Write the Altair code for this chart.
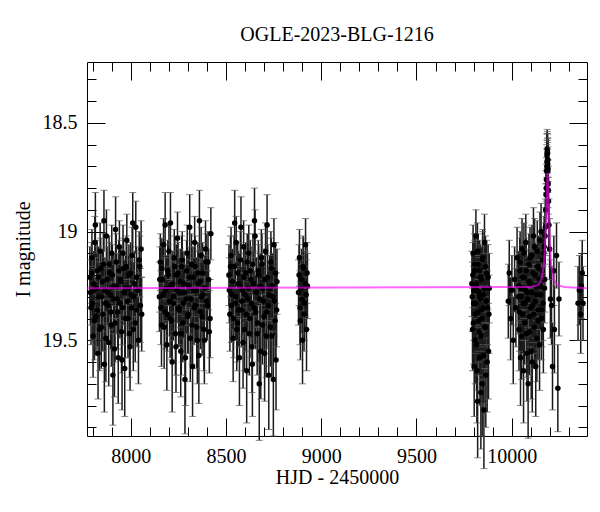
import altair as alt
import pandas as pd

# ---- photometry (HJD-2450000, I mag, error) ----
s1_t = [7786, 7792, 7797, 7803, 7808, 7812, 7818, 7824, 7829, 7833, 7840, 7846, 7851, 7857, 7862, 7868, 7873,
        7879, 7885, 7890, 7896, 7901, 7907, 7912, 7918, 7924, 7929, 7935, 7941, 7946, 7952, 7957, 7963, 7969,
        7974, 7980, 7986, 7991, 7997, 8003, 8008, 8014, 8020, 8027, 8034, 8041, 8048, 8055, 8058]
s1_m = [19.21, 19.35, 19.12, 19.48, 19.27, 19.05, 19.39, 19.18, 19.56, 19.30, 19.09, 19.44, 19.23, 19.15, 19.61,
        19.33, 19.02, 19.28, 19.51, 19.19, 19.37, 19.10, 19.66, 19.25, 19.42, 19.14, 19.31, 19.58, 19.07, 19.22,
        19.46, 19.35, 19.17, 19.63, 19.26, 19.04, 19.40, 19.20, 19.53, 19.29, 19.11, 19.45, 19.24, 18.98, 19.36,
        19.50, 19.16, 19.08, 19.38]
s1_e = [0.14, 0.17, 0.13, 0.19, 0.15, 0.12, 0.18, 0.14, 0.21, 0.16, 0.13, 0.19, 0.15, 0.14, 0.22, 0.17, 0.12,
        0.15, 0.20, 0.14, 0.17, 0.13, 0.23, 0.15, 0.18, 0.13, 0.16, 0.21, 0.12, 0.14, 0.19, 0.17, 0.14, 0.22,
        0.15, 0.12, 0.18, 0.14, 0.20, 0.16, 0.13, 0.19, 0.15, 0.12, 0.17, 0.20, 0.14, 0.13, 0.17]
s1b_t = [7789, 7795, 7800, 7806, 7810, 7815, 7821, 7826, 7831, 7837, 7843, 7848, 7854, 7860, 7865, 7870, 7876,
         7882, 7887, 7893, 7899, 7904, 7910, 7915, 7921, 7927, 7932, 7938, 7944, 7949, 7955, 7960, 7966, 7972,
         7977, 7983, 7989, 7994, 8000, 8006, 8011, 8017, 8024, 8031, 8038, 8045, 8051]
s1b_m = [19.28, 19.19, 19.33, 19.24, 19.41, 18.97, 19.26, 19.36, 19.21, 19.45, 19.17, 19.30, 19.38, 18.95, 19.27,
         19.49, 19.22, 19.34, 19.15, 19.29, 19.43, 19.20, 19.31, 19.54, 18.99, 19.25, 19.37, 19.18, 19.33, 19.23,
         19.59, 19.10, 19.28, 19.40, 19.16, 19.32, 19.26, 19.47, 19.19, 19.35, 18.96, 19.30, 19.42, 19.21, 19.27,
         19.13, 19.34]
s1b_e = [0.15, 0.14, 0.17, 0.15, 0.18, 0.15, 0.16, 0.17, 0.14, 0.19, 0.14, 0.16, 0.17, 0.14, 0.15, 0.20, 0.15,
         0.17, 0.13, 0.16, 0.19, 0.14, 0.16, 0.22, 0.15, 0.15, 0.17, 0.14, 0.16, 0.15, 0.23, 0.13, 0.15, 0.18,
         0.14, 0.16, 0.15, 0.20, 0.14, 0.17, 0.14, 0.16, 0.18, 0.14, 0.15, 0.13, 0.17]

s2_t = [8151, 8156, 8162, 8167, 8173, 8179, 8184, 8190, 8195, 8201, 8207, 8212, 8218, 8224, 8229, 8235, 8240,
        8246, 8252, 8257, 8263, 8268, 8274, 8280, 8285, 8291, 8297, 8302, 8308, 8313, 8319, 8325, 8330, 8336,
        8341, 8347, 8353, 8358, 8364, 8370, 8375, 8381, 8387, 8393, 8399, 8406, 8413, 8421]
s2_m = [19.30, 19.14, 19.43, 19.22, 19.06, 19.37, 19.27, 19.52, 19.18, 19.09, 19.40, 19.25, 19.60, 19.33, 19.12,
        19.47, 19.20, 19.03, 19.35, 19.28, 19.55, 19.16, 19.42, 19.24, 19.68, 19.31, 19.10, 19.38, 19.21, 19.49,
        19.15, 19.62, 19.27, 19.05, 19.34, 19.44, 19.19, 19.57, 19.23, 19.11, 19.39, 19.29, 19.50, 19.08, 19.32,
        19.14, 19.46, 19.01]
s2_e = [0.16, 0.13, 0.19, 0.15, 0.12, 0.17, 0.15, 0.21, 0.14, 0.13, 0.18, 0.15, 0.23, 0.17, 0.13, 0.19, 0.14,
        0.12, 0.17, 0.16, 0.21, 0.14, 0.18, 0.15, 0.25, 0.16, 0.13, 0.18, 0.14, 0.20, 0.14, 0.23, 0.15, 0.12,
        0.17, 0.19, 0.14, 0.22, 0.15, 0.13, 0.18, 0.16, 0.20, 0.13, 0.17, 0.14, 0.19, 0.12]
s2b_t = [8153, 8159, 8164, 8170, 8176, 8181, 8187, 8192, 8198, 8204, 8209, 8215, 8221, 8226, 8232, 8238, 8243,
         8249, 8254, 8260, 8266, 8271, 8277, 8282, 8288, 8294, 8299, 8305, 8310, 8316, 8322, 8327, 8333, 8338,
         8344, 8350, 8356, 8361, 8367, 8372, 8378, 8384, 8390, 8396, 8402, 8409, 8417]
s2b_m = [19.22, 19.35, 19.17, 19.29, 19.44, 18.97, 19.26, 19.38, 19.20, 19.32, 18.96, 19.41, 19.24, 19.30, 19.16,
         19.53, 19.27, 19.19, 19.36, 19.23, 19.47, 19.13, 19.33, 19.28, 19.58, 19.18, 19.39, 19.25, 18.98, 19.31,
         19.43, 19.21, 19.35, 19.16, 19.27, 19.50, 19.24, 18.95, 19.37, 19.30, 19.19, 19.45, 19.26, 19.14, 19.34,
         19.22, 19.40]
s2b_e = [0.15, 0.17, 0.14, 0.16, 0.19, 0.15, 0.15, 0.17, 0.14, 0.16, 0.14, 0.18, 0.15, 0.16, 0.14, 0.21, 0.15,
         0.14, 0.17, 0.15, 0.19, 0.13, 0.16, 0.15, 0.22, 0.14, 0.17, 0.15, 0.15, 0.16, 0.18, 0.14, 0.17, 0.14,
         0.15, 0.20, 0.15, 0.14, 0.17, 0.16, 0.14, 0.19, 0.15, 0.13, 0.16, 0.14, 0.18]

s3_t = [8516, 8521, 8527, 8532, 8538, 8543, 8549, 8554, 8560, 8565, 8571, 8576, 8582, 8587, 8593, 8598, 8604,
        8609, 8615, 8620, 8626, 8631, 8637, 8642, 8648, 8653, 8659, 8664, 8670, 8675, 8681, 8686, 8692, 8697,
        8703, 8708, 8714, 8719, 8725, 8730, 8736, 8741, 8747, 8752, 8758, 8763, 8768]
s3_m = [19.20, 19.38, 19.11, 19.29, 19.49, 19.16, 19.33, 19.05, 19.42, 19.24, 19.58, 19.13, 19.36, 19.27, 19.07,
        19.45, 19.19, 19.64, 19.31, 19.10, 19.40, 19.22, 19.53, 19.15, 19.35, 19.02, 19.28, 19.47, 19.18, 19.70,
        19.25, 19.12, 19.43, 19.32, 19.56, 19.09, 19.37, 19.21, 19.66, 19.26, 19.14, 19.48, 19.30, 19.06, 19.41,
        19.59, 19.23]
s3_e = [0.14, 0.17, 0.13, 0.16, 0.20, 0.14, 0.17, 0.12, 0.18, 0.15, 0.22, 0.13, 0.17, 0.15, 0.12, 0.19, 0.14,
        0.24, 0.16, 0.13, 0.18, 0.15, 0.21, 0.14, 0.17, 0.12, 0.16, 0.19, 0.14, 0.26, 0.15, 0.13, 0.18, 0.16,
        0.22, 0.13, 0.17, 0.15, 0.25, 0.15, 0.14, 0.19, 0.16, 0.12, 0.18, 0.23, 0.15]
s3b_t = [8518, 8524, 8529, 8535, 8540, 8546, 8551, 8557, 8562, 8568, 8573, 8579, 8584, 8590, 8595, 8601, 8606,
         8612, 8617, 8623, 8628, 8634, 8639, 8645, 8650, 8656, 8661, 8667, 8672, 8678, 8683, 8689, 8694, 8700,
         8705, 8711, 8716, 8722, 8727, 8733, 8738, 8744, 8749, 8755, 8760, 8766]
s3b_m = [19.27, 19.16, 19.34, 19.23, 19.40, 18.96, 19.30, 19.45, 19.19, 19.36, 19.25, 18.98, 19.32, 19.51, 19.21,
         19.29, 19.38, 19.14, 19.26, 19.47, 19.18, 19.33, 19.61, 19.24, 18.95, 19.37, 19.28, 19.42, 19.20, 19.31,
         19.55, 19.15, 19.26, 19.39, 19.22, 19.48, 18.97, 19.34, 19.29, 19.44, 19.17, 19.25, 19.68, 19.32, 19.19,
         19.36]
s3b_e = [0.15, 0.14, 0.17, 0.15, 0.18, 0.15, 0.16, 0.19, 0.14, 0.17, 0.15, 0.14, 0.16, 0.21, 0.14, 0.16, 0.17,
         0.13, 0.15, 0.19, 0.14, 0.16, 0.24, 0.15, 0.15, 0.17, 0.16, 0.18, 0.14, 0.16, 0.22, 0.14, 0.15, 0.17,
         0.14, 0.19, 0.14, 0.16, 0.15, 0.18, 0.14, 0.15, 0.26, 0.16, 0.14, 0.17]

s4_t = [8881, 8884, 8886, 8889, 8891, 8894, 8897, 8900, 8902, 8905, 8907, 8910, 8913, 8916, 8918, 8921, 8923,
        8926, 8928]
s4_m = [19.28, 19.20, 19.12, 19.35, 19.41, 19.26, 19.22, 19.31, 19.50, 19.16, 19.17, 19.38, 19.33, 19.24, 19.06,
        19.29, 19.45, 19.19, 19.25]
s4_e = [0.15, 0.14, 0.13, 0.17, 0.18, 0.15, 0.14, 0.16, 0.20, 0.14, 0.14, 0.17, 0.17, 0.15, 0.12, 0.16, 0.19,
        0.14, 0.15]

s5_t = [9791, 9794, 9797, 9800, 9803, 9806, 9809, 9812, 9815, 9818, 9821, 9824, 9827, 9830, 9833, 9836, 9839,
        9842, 9845, 9848, 9851, 9854, 9857, 9860, 9864, 9868, 9873, 9878, 9882]
s5_m = [19.24, 19.45, 19.10, 19.33, 19.62, 19.18, 19.38, 19.02, 19.52, 19.27, 19.78, 19.15, 19.41, 19.30, 19.58,
        19.21, 19.48, 19.36, 19.70, 19.12, 19.29, 19.82, 19.05, 19.44, 19.66, 19.19, 19.35, 19.55, 19.26]
s5_e = [0.15, 0.19, 0.13, 0.17, 0.23, 0.14, 0.18, 0.12, 0.21, 0.16, 0.26, 0.14, 0.19, 0.16, 0.22, 0.15, 0.20,
        0.17, 0.24, 0.13, 0.16, 0.27, 0.13, 0.19, 0.24, 0.15, 0.17, 0.22, 0.16]
s5b_t = [9793, 9796, 9799, 9802, 9805, 9808, 9811, 9814, 9817, 9820, 9823, 9826, 9829, 9832, 9835, 9838, 9841,
         9844, 9847, 9850, 9853, 9856, 9859, 9862, 9866, 9871, 9876, 9880]
s5b_m = [19.30, 19.20, 19.42, 19.27, 19.15, 19.50, 19.33, 19.24, 19.64, 19.09, 19.37, 19.28, 19.46, 19.18, 19.31,
         19.74, 19.22, 19.40, 19.13, 19.35, 19.57, 19.26, 19.44, 19.16, 19.32, 19.60, 19.21, 19.38]
s5b_e = [0.16, 0.15, 0.19, 0.16, 0.14, 0.20, 0.17, 0.15, 0.24, 0.13, 0.18, 0.16, 0.20, 0.14, 0.17, 0.26, 0.15,
         0.19, 0.13, 0.17, 0.22, 0.16, 0.19, 0.14, 0.17, 0.23, 0.15, 0.18]

s6_t = [9982, 9987, 9994, 10001, 10008, 10015, 10022, 10028, 10034, 10038, 10042, 10046, 10050, 10054, 10058,
        10062, 10066, 10070, 10074, 10078, 10082, 10086, 10090, 10094, 10098, 10102, 10106, 10110, 10114, 10118,
        10122, 10126, 10130, 10134, 10138, 10142, 10146, 10150, 10154, 10158, 10162, 10166, 10170, 10173, 10176,
        10178, 10180, 10182, 10184, 10185, 10186, 10187, 10188, 10189, 10190, 10191, 10193, 10195,
        10199, 10203, 10209, 10214, 10221, 10224, 10235, 10242, 10248]
s6_m = [19.32, 19.19, 19.40, 19.27, 19.50, 19.22, 19.35, 19.12, 19.30, 19.45, 19.18, 19.58, 19.26, 19.08, 19.38,
        19.64, 19.21, 19.33, 19.05, 19.47, 19.28, 19.70, 19.15, 19.39, 19.24, 19.55, 19.11, 19.34, 19.02, 19.44,
        19.20, 19.62, 19.29, 19.09, 19.41, 19.17, 19.52, 19.25, 19.00, 19.36, 19.13, 19.45, 19.07, 19.22, 18.98,
        18.90, 18.83, 18.76, 18.70, 18.65, 18.62, 18.68, 18.64, 18.72, 18.67, 18.78, 18.86, 18.97,
        19.08, 19.31, 19.34, 19.62, 19.18, 19.45, 19.11, 19.72, 19.31]
s6_e = [0.17, 0.15, 0.19, 0.16, 0.20, 0.15, 0.18, 0.14, 0.17, 0.19, 0.15, 0.22, 0.16, 0.14, 0.18,
        0.24, 0.15, 0.17, 0.13, 0.20, 0.16, 0.25, 0.14, 0.18, 0.15, 0.22, 0.14, 0.17, 0.13, 0.19,
        0.15, 0.23, 0.16, 0.14, 0.18, 0.15, 0.21, 0.16, 0.13, 0.17, 0.14, 0.20, 0.14, 0.15, 0.13,
        0.12, 0.11, 0.10, 0.10, 0.10, 0.09, 0.10, 0.09, 0.10, 0.10, 0.11, 0.11, 0.12,
        0.14, 0.18, 0.18, 0.20, 0.16, 0.20, 0.15, 0.20, 0.17]
s6b_t = [10036, 10040, 10044, 10048, 10052, 10056, 10060, 10064, 10068, 10072, 10076, 10080, 10084, 10088, 10092,
         10096, 10100, 10104, 10108, 10112, 10116, 10120, 10124, 10128, 10132, 10136, 10140, 10144, 10148, 10152,
         10156, 10160, 10164, 10168, 10172, 10175,
         10181, 10183, 10185, 10186, 10187, 10188, 10189, 10190, 10192]
s6b_m = [19.25, 19.37, 19.14, 19.30, 19.48, 19.21, 19.33, 19.10, 19.42, 19.27, 19.18, 19.56, 19.31, 19.23, 19.46,
         19.12, 19.35, 19.28, 19.60, 19.19, 19.38, 19.07, 19.32, 19.25, 19.49, 19.16, 19.36, 19.22, 19.04, 19.29,
         19.40, 19.18, 19.33, 19.10, 19.26, 19.02,
         18.80, 18.72, 18.68, 18.64, 18.63, 18.67, 18.69, 18.71, 18.81]
s6b_e = [0.16, 0.18, 0.14, 0.17, 0.20, 0.15, 0.17, 0.14, 0.19, 0.16, 0.15, 0.22, 0.17, 0.15, 0.20,
         0.14, 0.18, 0.16, 0.23, 0.15, 0.18, 0.13, 0.17, 0.16, 0.20, 0.14, 0.18, 0.15, 0.13, 0.16,
         0.19, 0.15, 0.17, 0.14, 0.16, 0.13,
         0.11, 0.10, 0.10, 0.09, 0.09, 0.10, 0.10, 0.10, 0.11]

s7_t = [10348, 10355, 10362, 10366, 10370, 10374]
s7_m = [19.33, 19.27, 19.38, 19.25, 19.19, 19.33]
s7_e = [0.17, 0.16, 0.18, 0.15, 0.15, 0.17]

# ---- model light curve ----
model_t = [7771, 10100, 10140, 10160, 10170, 10176, 10180, 10184, 10188, 10192, 10196, 10200, 10206, 10216,
           10236, 10276, 10395]
model_m = [19.26, 19.255, 19.245, 19.21, 19.14, 19.04, 18.95, 18.83, 18.73, 18.83, 18.95, 19.04, 19.14, 19.21,
           19.245, 19.255, 19.26]

# ---- axis tick values ----
x_major = [8000, 8500, 9000, 9500, 10000]
x_minor = list(range(7800, 10400, 100))
y_major = [18.5, 19, 19.5]
y_minor = [18.3, 18.4, 18.5, 18.6, 18.7, 18.8, 18.9, 19.0, 19.1, 19.2, 19.3, 19.4, 19.5, 19.6, 19.7, 19.8, 19.9]

t = s1_t + s1b_t + s2_t + s2b_t + s3_t + s3b_t + s4_t + s5_t + s5b_t + s6_t + s6b_t + s7_t
m = s1_m + s1b_m + s2_m + s2b_m + s3_m + s3b_m + s4_m + s5_m + s5b_m + s6_m + s6b_m + s7_m
e = s1_e + s1b_e + s2_e + s2b_e + s3_e + s3b_e + s4_e + s5_e + s5b_e + s6_e + s6b_e + s7_e
df = pd.DataFrame({"t": t, "mag": m, "err": e})
model = pd.DataFrame({"t": model_t, "mag": model_m})

FONT = "Liberation Serif"
xs = alt.Scale(domain=[7771, 10395], nice=False, zero=False)
ys = alt.Scale(domain=[18.22, 19.94], nice=False, zero=False, reverse=True)

base = alt.Chart(df).transform_calculate(lo="datum.mag - datum.err", hi="datum.mag + datum.err")

label_x = alt.Axis(values=x_major, format="d", ticks=False, domain=False, grid=False, labelFont=FONT,
                   labelFontSize=20, labelColor="black", labelPadding=10, title="HJD - 2450000",
                   titleFont=FONT, titleFontSize=20, titleFontWeight="normal", titleColor="black",
                   titlePadding=1, orient="bottom", labelFlush=False)
label_y = alt.Axis(values=y_major, format=".1~f", ticks=False, domain=False, grid=False, labelFont=FONT,
                   labelFontSize=20, labelColor="black", labelPadding=10, title="I magnitude",
                   titleFont=FONT, titleFontSize=20, titleFontWeight="normal", titleColor="black",
                   titlePadding=9, orient="left", labelFlush=False)

BAR = "#1a1a1a"
bars = base.mark_rule(color=BAR, strokeWidth=1.5).encode(
    x=alt.X("t:Q", scale=xs, axis=label_x),
    y=alt.Y("lo:Q", scale=ys, axis=label_y),
    y2="hi:Q",
)
cap_lo = base.mark_tick(color="#555555", orient="horizontal", size=7, thickness=1).encode(
    x=alt.X("t:Q", scale=xs, axis=None), y=alt.Y("lo:Q", scale=ys, axis=None))
cap_hi = base.mark_tick(color="#555555", orient="horizontal", size=7, thickness=1).encode(
    x=alt.X("t:Q", scale=xs, axis=None), y=alt.Y("hi:Q", scale=ys, axis=None))
pts = base.mark_circle(color="black", size=30, opacity=1).encode(
    x=alt.X("t:Q", scale=xs, axis=None), y=alt.Y("mag:Q", scale=ys, axis=None))
line = alt.Chart(model).mark_line(color="#ff00ff", strokeWidth=2, opacity=0.6, clip=True).encode(
    x=alt.X("t:Q", scale=xs, axis=None), y=alt.Y("mag:Q", scale=ys, axis=None))


def tick_axis(vals, orient, length):
    return alt.Axis(values=vals, orient=orient, labels=False, domain=False, grid=False, ticks=True,
                    tickSize=length, offset=-length, tickColor="black", tickWidth=1, title=None)


def tick_layer(xv, yv, xo, yo, length):
    return alt.Chart(model).mark_point(opacity=0).encode(
        x=alt.X("t:Q", scale=xs, axis=tick_axis(xv, xo, length)),
        y=alt.Y("mag:Q", scale=ys, axis=tick_axis(yv, yo, length)),
    )


chart = alt.layer(
    bars, cap_lo, cap_hi, pts, line,
    tick_layer(x_major, y_major, "bottom", "left", 18),
    tick_layer(x_minor, y_minor, "bottom", "left", 9),
    tick_layer(x_major, y_major, "top", "right", 18),
    tick_layer(x_minor, y_minor, "top", "right", 9),
).resolve_axis(x="independent", y="independent").properties(
    width=500, height=374,
    autosize=alt.AutoSizeParams(type="none"),
    padding={"left": 79, "top": 54, "right": 5, "bottom": 60},
    title=alt.TitleParams("OGLE-2023-BLG-1216", font=FONT, fontSize=20, fontWeight="normal",
                          color="black", baseline="alphabetic", offset=1),
    background="white",
).configure_view(stroke="black", strokeWidth=1)

chart.save("out.html", embed_options={"renderer": "svg", "actions": False})
